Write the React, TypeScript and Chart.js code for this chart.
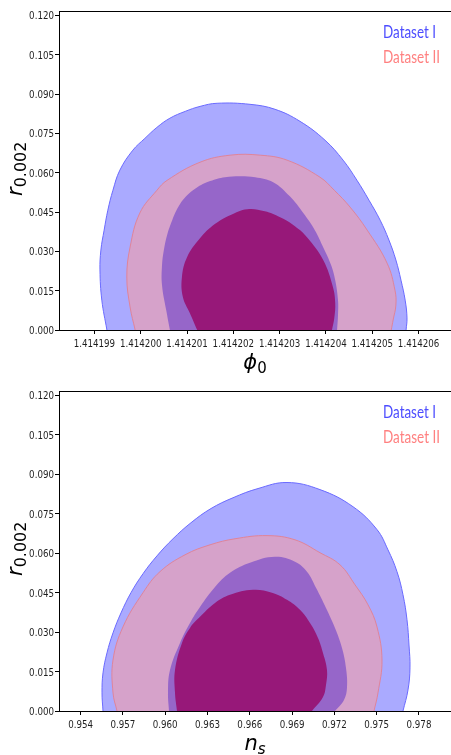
import { useEffect, useRef } from "react";
import { Chart, registerables } from "chart.js";

Chart.register(...registerables);

type Pt = [number, number];

// ---------- tick values ----------
const rTicks = [0, 0.015, 0.03, 0.045, 0.06, 0.075, 0.09, 0.105, 0.12];
const phiTicks = [1.414199, 1.4142, 1.414201, 1.414202, 1.414203, 1.414204, 1.414205, 1.414206];
const nsTicks = [0.954, 0.957, 0.96, 0.963, 0.966, 0.969, 0.972, 0.975, 0.978];

const legendLabels = ["Dataset I", "Dataset II"];

// ---------- panel 1: phi0 vs r ----------
const phiD1Outer: Pt[] = [
  [1.41419927, 0], [1.41419916, 0.0114], [1.41419912, 0.0229], [1.41419914, 0.0305],
  [1.41419921, 0.0381], [1.41419929, 0.0457], [1.4141994, 0.0533], [1.41419955, 0.061],
  [1.41419983, 0.0686], [1.41420009, 0.0731], [1.41420035, 0.0773], [1.41420063, 0.0808],
  [1.41420096, 0.0834], [1.41420128, 0.0853], [1.41420165, 0.0865], [1.41420236, 0.0861],
  [1.4142029, 0.0842], [1.41420344, 0.0796], [1.41420398, 0.0724], [1.41420437, 0.0648],
  [1.41420467, 0.0571], [1.41420493, 0.0495], [1.41420517, 0.0419], [1.41420536, 0.0343],
  [1.41420551, 0.0267], [1.41420562, 0.019], [1.41420571, 0.0114], [1.41420575, 0.0046],
  [1.41420573, 0],
];
const phiD2Outer: Pt[] = [
  [1.41419988, 0], [1.41419977, 0.0088], [1.4141997, 0.0202], [1.41419977, 0.0316],
  [1.41419998, 0.0446], [1.41420035, 0.0533], [1.41420057, 0.0571], [1.41420128, 0.064],
  [1.41420193, 0.0667], [1.41420258, 0.0667], [1.41420316, 0.0648], [1.41420387, 0.0583],
  [1.41420418, 0.0533], [1.41420452, 0.0469], [1.41420489, 0.0381], [1.41420532, 0.0255],
  [1.41420549, 0.0152], [1.41420551, 0.0095], [1.41420545, 0.0038], [1.41420541, 0],
];
const phiD1Inner: Pt[] = [
  [1.41420063, 0], [1.41420055, 0.0076], [1.41420046, 0.0171], [1.41420046, 0.0248],
  [1.4142005, 0.0305], [1.41420057, 0.0362], [1.41420068, 0.0419], [1.41420081, 0.0469],
  [1.41420098, 0.051], [1.41420119, 0.0541], [1.4142015, 0.0568], [1.41420182, 0.0583],
  [1.41420214, 0.0587], [1.41420247, 0.0583], [1.41420286, 0.0564], [1.41420322, 0.051],
  [1.41420351, 0.0446], [1.41420376, 0.0381], [1.41420394, 0.0316], [1.41420411, 0.0248],
  [1.4142042, 0.019], [1.41420426, 0.0114], [1.41420426, 0.0057], [1.41420424, 0],
];
const phiD2Inner: Pt[] = [
  [1.41420122, 0], [1.41420106, 0.0065], [1.41420091, 0.0126], [1.41420089, 0.0202],
  [1.414201, 0.0278], [1.41420128, 0.035], [1.4142016, 0.0404], [1.41420193, 0.0438],
  [1.4142023, 0.0461], [1.41420268, 0.0453], [1.41420301, 0.043], [1.41420333, 0.0396],
  [1.41420359, 0.0354], [1.41420394, 0.0267], [1.41420415, 0.0164], [1.4142042, 0.0103],
  [1.41420418, 0.0046], [1.41420413, 0],
];

// ---------- panel 2: ns vs r ----------
const nsD1Outer: Pt[] = [
  [0.955589, 0], [0.955518, 0.0069], [0.955589, 0.0145], [0.955872, 0.0221],
  [0.956298, 0.0297], [0.956865, 0.0373], [0.957574, 0.045], [0.958426, 0.0522],
  [0.959418, 0.059], [0.960553, 0.0655], [0.96183, 0.0716], [0.963248, 0.077],
  [0.964809, 0.0811], [0.966582, 0.0846], [0.968638, 0.0869], [0.970979, 0.0842],
  [0.973319, 0.0777], [0.975021, 0.069], [0.975801, 0.0613], [0.97644, 0.053],
  [0.976865, 0.0442], [0.977149, 0.0347], [0.977291, 0.0251], [0.977362, 0.0164],
  [0.97722, 0.008], [0.976865, 0],
];
const nsD2Outer: Pt[] = [
  [0.956582, 0], [0.956298, 0.0069], [0.956298, 0.0194], [0.957007, 0.032],
  [0.958426, 0.045], [0.959631, 0.053], [0.961404, 0.0594], [0.963177, 0.0632],
  [0.96495, 0.0655], [0.96722, 0.0667], [0.969206, 0.0651], [0.970979, 0.0602],
  [0.972397, 0.0556], [0.973461, 0.048], [0.974383, 0.0404], [0.975021, 0.032],
  [0.975376, 0.0194], [0.975092, 0.0069], [0.974809, 0],
];
const nsD1Inner: Pt[] = [
  [0.96027, 0], [0.960199, 0.0069], [0.96034, 0.0156], [0.96105, 0.0259],
  [0.961759, 0.0335], [0.962468, 0.0396], [0.963532, 0.0472], [0.964596, 0.0526],
  [0.966014, 0.0564], [0.967787, 0.0587], [0.969206, 0.0568], [0.970057, 0.053],
  [0.970695, 0.0469], [0.971404, 0.0392], [0.972043, 0.0316], [0.972539, 0.024],
  [0.972823, 0.0164], [0.972894, 0.0088], [0.972681, 0.0042], [0.972043, 0],
];
const nsD2Inner: Pt[] = [
  [0.960837, 0], [0.960695, 0.0069], [0.960695, 0.0156], [0.961191, 0.0259],
  [0.961759, 0.0316], [0.962468, 0.0358], [0.963532, 0.0411], [0.964596, 0.0442],
  [0.966227, 0.0461], [0.967574, 0.045], [0.968638, 0.0423], [0.96956, 0.0385],
  [0.97027, 0.0335], [0.970837, 0.0278], [0.971191, 0.0221], [0.971475, 0.0156],
  [0.971404, 0.0099], [0.971191, 0.0053], [0.970411, 0],
];

// ---------- styling ----------
const C = {
  d1OuterFill: "#aaaaff",
  d1OuterLine: "#6a6aff",
  d2OuterFill: "#d6a2ca",
  d2OuterLine: "#e0849a",
  d1InnerFill: "#9666c9",
  d2InnerFill: "#971879",
  legend1: "#4d4dff",
  legend2: "#ff8080",
  tick: "#1e1e1e",
};

const TICK_FONT = "11px 'DejaVu Sans', sans-serif";
const TICK_SQUEEZE = 0.79;

function ds(label: string, pts: Pt[], fill: string, line: string, lw: number, order: number) {
  return {
    label,
    data: pts.map(([x, y]) => ({ x, y })),
    fill: "shape",
    backgroundColor: fill,
    borderColor: line,
    borderWidth: lw,
    pointRadius: 0,
    pointHoverRadius: 0,
    tension: 0.4,
    order,
  };
}

const decorPlugin = {
  id: "decor",
  afterDraw(chart: any) {
    const o = chart.options.plugins.decor;
    const { ctx, chartArea: a } = chart;
    const xs = chart.scales.x;
    const ys = chart.scales.y;
    ctx.save();
    // top spine
    ctx.strokeStyle = "#000";
    ctx.lineWidth = 1;
    ctx.beginPath();
    const ty = Math.round(a.top) + 0.5;
    ctx.moveTo(a.left, ty);
    ctx.lineTo(a.right, ty);
    ctx.stroke();

    const squeezed = (t: string, col: string, x: number, y: number, sx: number, align: string) => {
      const w = ctx.measureText(t).width * sx;
      const x0 = align === "center" ? x - w / 2 : align === "right" ? x - w : x;
      ctx.save();
      ctx.translate(x0, y);
      ctx.scale(sx, 1);
      ctx.fillStyle = col;
      ctx.fillText(t, 0, 0);
      ctx.restore();
    };

    // tick labels (positions from the chart's scales)
    ctx.textAlign = "left";
    ctx.textBaseline = "alphabetic";
    ctx.font = TICK_FONT;
    for (const t of xs.ticks) {
      const px = xs.getPixelForValue(t.value);
      squeezed(Number(t.value).toFixed(o.xDec), C.tick, px, a.bottom + 17, TICK_SQUEEZE, "center");
    }
    for (const t of ys.ticks) {
      const py = ys.getPixelForValue(t.value);
      squeezed(Number(t.value).toFixed(3), C.tick, a.left - 5, py + 4, TICK_SQUEEZE, "right");
    }

    // legend texts
    ctx.font = "17px Lato, 'Open Sans', sans-serif";
    const m1 = ctx.measureText(legendLabels[0]).width;
    const m2 = ctx.measureText(legendLabels[1]).width;
    squeezed(legendLabels[0], C.legend1, 383, a.top + 27, 53 / m1, "left");
    squeezed(legendLabels[1], C.legend2, 383, a.top + 52, 57 / m2, "left");

    // x title (main + subscript)
    ctx.fillStyle = "#000";
    const mainFont = "italic 21px 'DejaVu Sans', sans-serif";
    const subFont = (o.xSubItalic ? "italic " : "") + "15px 'DejaVu Sans', sans-serif";
    ctx.font = mainFont;
    const w1 = ctx.measureText(o.xMain).width;
    ctx.font = subFont;
    const w2 = ctx.measureText(o.xSub).width;
    const cx = (a.left + a.right) / 2;
    const sx = cx - (w1 + w2) / 2;
    const by = a.bottom + 39;
    ctx.font = mainFont;
    ctx.fillText(o.xMain, sx, by);
    ctx.font = subFont;
    ctx.fillText(o.xSub, sx + w1, by + 4);

    // y title (rotated)
    ctx.save();
    ctx.translate(22, 196);
    ctx.rotate(-Math.PI / 2);
    ctx.font = mainFont;
    const wr = ctx.measureText("r").width;
    ctx.fillText("r", 0, 0);
    ctx.font = "16px 'DejaVu Sans', sans-serif";
    ctx.fillText("0.002", wr, 4);
    ctx.restore();

    ctx.restore();
  },
};

type PanelSpec = {
  height: number;
  axisHeight: number;
  xMin: number;
  xMax: number;
  xTicks: number[];
  xDec: number;
  xMain: string;
  xSub: string;
  xSubItalic: boolean;
  d1Outer: Pt[];
  d2Outer: Pt[];
  d1Inner: Pt[];
  d2Inner: Pt[];
};

function makeConfig(p: PanelSpec): any {
  const grid = {
    display: true,
    drawOnChartArea: false,
    drawTicks: true,
    tickLength: 4,
    color: "#000",
    tickColor: "#000",
  };
  return {
    type: "line",
    data: {
      datasets: [
        ds("Dataset II 68%", p.d2Inner, C.d2InnerFill, C.d2InnerFill, 0, 0),
        ds("Dataset I 68%", p.d1Inner, C.d1InnerFill, C.d1InnerFill, 0, 1),
        ds("Dataset II 95%", p.d2Outer, C.d2OuterFill, C.d2OuterLine, 1, 2),
        ds("Dataset I 95%", p.d1Outer, C.d1OuterFill, C.d1OuterLine, 1, 3),
      ],
    },
    options: {
      responsive: false,
      animation: false,
      devicePixelRatio: 1,
      layout: { padding: { top: 11, right: 0, bottom: 0, left: 0 } },
      plugins: {
        legend: { display: false },
        tooltip: { enabled: false },
        decor: { xMain: p.xMain, xSub: p.xSub, xSubItalic: p.xSubItalic, xDec: p.xDec },
      },
      events: [],
      scales: {
        x: {
          type: "linear",
          min: p.xMin,
          max: p.xMax,
          afterBuildTicks: (s: any) => {
            s.ticks = p.xTicks.map((v) => ({ value: v }));
          },
          afterFit: (s: any) => {
            s.height = p.axisHeight;
          },
          ticks: { display: false, autoSkip: false, maxRotation: 0, minRotation: 0 },
          grid,
          border: { display: true, color: "#000", width: 1 },
        },
        y: {
          type: "linear",
          min: 0,
          max: 0.1217,
          afterBuildTicks: (s: any) => {
            s.ticks = rTicks.map((v) => ({ value: v }));
          },
          afterFit: (s: any) => {
            s.width = 59;
          },
          ticks: { display: false, autoSkip: false },
          grid,
          border: { display: true, color: "#000", width: 1 },
        },
      },
    },
    plugins: [decorPlugin],
  };
}

function Panel({ spec }: { spec: PanelSpec }) {
  const ref = useRef<HTMLCanvasElement>(null);
  useEffect(() => {
    const chart = new Chart(ref.current as HTMLCanvasElement, makeConfig(spec));
    return () => chart.destroy();
  }, [spec]);
  return (
    <canvas
      ref={ref}
      width={451}
      height={spec.height}
      style={{ display: "block", width: 451, height: spec.height }}
    />
  );
}

const topSpec: PanelSpec = {
  height: 380,
  axisHeight: 50,
  xMin: 1.4141982354,
  xMax: 1.4142067,
  xTicks: phiTicks,
  xDec: 6,
  xMain: "ϕ",
  xSub: "0",
  xSubItalic: false,
  d1Outer: phiD1Outer,
  d2Outer: phiD2Outer,
  d1Inner: phiD1Inner,
  d2Inner: phiD2Inner,
};

const bottomSpec: PanelSpec = {
  height: 375,
  axisHeight: 44,
  xMin: 0.952468,
  xMax: 0.98027,
  xTicks: nsTicks,
  xDec: 3,
  xMain: "n",
  xSub: "s",
  xSubItalic: true,
  d1Outer: nsD1Outer,
  d2Outer: nsD2Outer,
  d1Inner: nsD1Inner,
  d2Inner: nsD2Inner,
};

export default function App() {
  return (
    <div style={{ position: "absolute", left: 0, top: 0, width: 451, height: 755, background: "#fff", overflow: "hidden" }}>
      <Panel spec={topSpec} />
      <Panel spec={bottomSpec} />
    </div>
  );
}
